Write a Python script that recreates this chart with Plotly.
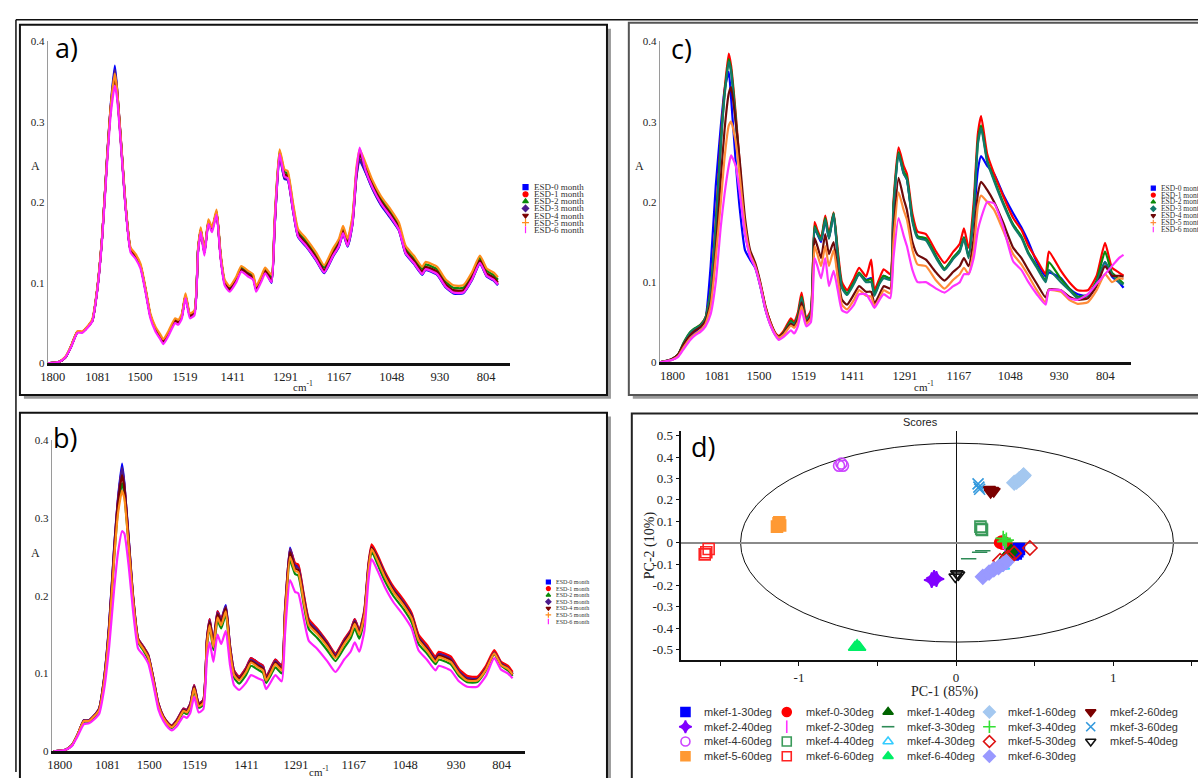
import plotly.graph_objects as go

W, H = 1198, 778


def fx(p):
    return p / W


def fy(p):
    return 1 - p / H


# ---------------- spectra data (panels a, b, c) ----------------
# sample index along the spectral axis (same grid for the three spectra panels)
X_IDX = [0, 2.6, 4, 5.1, 6.6, 7.7, 8.8, 9.9, 11, 12.1, 13.2, 14, 14.9, 15.4, 16.4, 17.3, 18.4, 19.5,
         20.6, 21.7, 22.8, 23.9, 25, 25.7, 26.8, 28.3, 29, 29.8, 30.6, 31.6, 32.6, 33.4, 34, 34.8,
         35.7, 36.5, 37.5, 38.4, 39.3, 40.4, 41.9, 43, 44.5, 45.6, 46.3, 47.4, 48.3, 49.7, 50.4,
         51.5, 52.6, 53.3, 54.5, 55.6, 57.4, 59.6, 61.4, 63.3, 64.7, 65.6, 66.6, 67.7, 68.6, 69.3,
         70.6, 72.1, 74, 76.2, 78, 79.5, 81.3, 83.2, 83.9, 86.5, 88.3, 90.1, 92.3, 94.2, 96, 97.5,
         99, 100]

TICK_LABELS = ["1800", "1081", "1500", "1519", "1411", "1291", "1167", "1048", "930", "804"]
TICKS_A = [1.1, 11.1, 20.5, 30.5, 41.1, 52.8, 64.7, 76.4, 87.1, 97.4]
TICKS_B = [1.3, 11.7, 20.8, 30.7, 42.0, 52.8, 65.4, 76.6, 87.7, 97.6]
TICKS_C = [2.8, 12.4, 21.4, 31.0, 41.5, 52.9, 64.5, 75.6, 86.1, 96.1]
Y_TICKS = [0, 0.1, 0.2, 0.3, 0.4]
Y_TICK_TEXT = ["0", "0.1", "0.2", "0.3", "0.4"]

ESD_NAMES = ["ESD-0 month", "ESD-1 month", "ESD-2 month", "ESD-3 month",
             "ESD-4 month", "ESD-5 month", "ESD-6 month"]

# panel a
A_ESD0 = [0.0, 0.002, 0.008, 0.02, 0.039, 0.039, 0.045, 0.053, 0.092, 0.158, 0.258, 0.322, 0.37, 0.342, 0.266, 0.196, 0.141, 0.133, 0.121, 0.092, 0.059, 0.043, 0.033, 0.027, 0.037, 0.053, 0.051, 0.059, 0.084, 0.059, 0.063, 0.141, 0.166, 0.137, 0.176, 0.166, 0.188, 0.133, 0.1, 0.092, 0.104, 0.117, 0.111, 0.107, 0.092, 0.104, 0.115, 0.1, 0.169, 0.258, 0.229, 0.228, 0.189, 0.157, 0.145, 0.128, 0.112, 0.132, 0.145, 0.161, 0.145, 0.173, 0.233, 0.252, 0.237, 0.217, 0.197, 0.18, 0.165, 0.136, 0.124, 0.11, 0.116, 0.11, 0.095, 0.087, 0.087, 0.103, 0.124, 0.108, 0.103, 0.097]
A_ESD1 = [0.0, 0.002, 0.008, 0.02, 0.039, 0.039, 0.045, 0.053, 0.092, 0.158, 0.256, 0.318, 0.362, 0.34, 0.265, 0.195, 0.141, 0.133, 0.121, 0.092, 0.059, 0.043, 0.033, 0.027, 0.037, 0.053, 0.051, 0.059, 0.084, 0.059, 0.063, 0.141, 0.166, 0.137, 0.176, 0.166, 0.188, 0.133, 0.1, 0.092, 0.104, 0.117, 0.111, 0.107, 0.092, 0.104, 0.115, 0.102, 0.171, 0.26, 0.233, 0.231, 0.191, 0.159, 0.147, 0.13, 0.114, 0.134, 0.147, 0.163, 0.147, 0.175, 0.237, 0.262, 0.241, 0.22, 0.2, 0.183, 0.167, 0.138, 0.126, 0.112, 0.118, 0.112, 0.097, 0.089, 0.089, 0.105, 0.126, 0.11, 0.105, 0.099]
A_ESD2 = [0.0, 0.002, 0.008, 0.02, 0.039, 0.039, 0.045, 0.053, 0.092, 0.158, 0.255, 0.316, 0.355, 0.336, 0.263, 0.195, 0.142, 0.134, 0.122, 0.093, 0.06, 0.044, 0.034, 0.028, 0.038, 0.054, 0.052, 0.06, 0.085, 0.06, 0.064, 0.142, 0.167, 0.138, 0.177, 0.167, 0.189, 0.135, 0.102, 0.094, 0.106, 0.119, 0.113, 0.109, 0.094, 0.106, 0.117, 0.107, 0.176, 0.264, 0.238, 0.236, 0.196, 0.164, 0.152, 0.135, 0.119, 0.139, 0.152, 0.168, 0.152, 0.18, 0.24, 0.258, 0.246, 0.225, 0.205, 0.188, 0.172, 0.143, 0.131, 0.117, 0.123, 0.117, 0.102, 0.094, 0.094, 0.11, 0.131, 0.115, 0.11, 0.104]
A_ESD3 = [0.0, 0.002, 0.008, 0.02, 0.039, 0.039, 0.045, 0.053, 0.092, 0.158, 0.257, 0.32, 0.365, 0.34, 0.265, 0.195, 0.141, 0.133, 0.121, 0.092, 0.059, 0.043, 0.033, 0.027, 0.037, 0.053, 0.051, 0.059, 0.084, 0.059, 0.063, 0.141, 0.166, 0.137, 0.176, 0.166, 0.188, 0.133, 0.1, 0.092, 0.104, 0.117, 0.111, 0.107, 0.092, 0.104, 0.115, 0.101, 0.17, 0.259, 0.23, 0.229, 0.19, 0.158, 0.146, 0.129, 0.113, 0.133, 0.146, 0.162, 0.146, 0.174, 0.235, 0.254, 0.238, 0.218, 0.198, 0.181, 0.166, 0.137, 0.125, 0.111, 0.117, 0.111, 0.096, 0.088, 0.088, 0.104, 0.125, 0.109, 0.104, 0.098]
A_ESD4 = [0.0, 0.002, 0.008, 0.02, 0.039, 0.039, 0.045, 0.053, 0.092, 0.158, 0.256, 0.318, 0.355, 0.337, 0.264, 0.195, 0.141, 0.133, 0.121, 0.092, 0.059, 0.043, 0.033, 0.027, 0.037, 0.053, 0.051, 0.059, 0.084, 0.059, 0.063, 0.141, 0.166, 0.137, 0.176, 0.166, 0.188, 0.133, 0.1, 0.092, 0.104, 0.117, 0.111, 0.107, 0.092, 0.104, 0.115, 0.104, 0.173, 0.262, 0.235, 0.233, 0.193, 0.161, 0.149, 0.132, 0.116, 0.136, 0.149, 0.165, 0.149, 0.177, 0.239, 0.26, 0.243, 0.222, 0.202, 0.185, 0.169, 0.14, 0.128, 0.114, 0.12, 0.114, 0.099, 0.091, 0.091, 0.107, 0.128, 0.112, 0.107, 0.101]
A_ESD5 = [0.0, 0.002, 0.009, 0.021, 0.04, 0.04, 0.046, 0.055, 0.094, 0.16, 0.258, 0.32, 0.36, 0.34, 0.267, 0.198, 0.144, 0.136, 0.124, 0.095, 0.062, 0.046, 0.036, 0.03, 0.04, 0.056, 0.054, 0.062, 0.087, 0.062, 0.066, 0.144, 0.169, 0.14, 0.179, 0.169, 0.191, 0.137, 0.104, 0.096, 0.108, 0.121, 0.115, 0.111, 0.096, 0.108, 0.119, 0.11, 0.179, 0.266, 0.241, 0.239, 0.199, 0.167, 0.155, 0.138, 0.122, 0.142, 0.155, 0.171, 0.155, 0.183, 0.245, 0.266, 0.249, 0.228, 0.208, 0.191, 0.175, 0.146, 0.134, 0.12, 0.126, 0.12, 0.105, 0.097, 0.097, 0.113, 0.134, 0.118, 0.113, 0.107]
A_ESD6 = [0.0, 0.002, 0.008, 0.019, 0.038, 0.038, 0.044, 0.052, 0.09, 0.155, 0.25, 0.31, 0.345, 0.33, 0.26, 0.192, 0.138, 0.13, 0.118, 0.089, 0.056, 0.04, 0.03, 0.024, 0.034, 0.05, 0.048, 0.056, 0.081, 0.056, 0.06, 0.138, 0.163, 0.134, 0.173, 0.163, 0.185, 0.13, 0.097, 0.089, 0.101, 0.114, 0.108, 0.104, 0.089, 0.101, 0.112, 0.101, 0.17, 0.26, 0.232, 0.23, 0.19, 0.158, 0.146, 0.129, 0.113, 0.133, 0.146, 0.162, 0.146, 0.174, 0.24, 0.268, 0.24, 0.219, 0.199, 0.182, 0.166, 0.137, 0.125, 0.111, 0.117, 0.111, 0.096, 0.088, 0.088, 0.104, 0.125, 0.109, 0.104, 0.098]

# panel b
B_ESD0 = [0.0, 0.002, 0.008, 0.02, 0.04, 0.04, 0.046, 0.055, 0.095, 0.165, 0.265, 0.325, 0.37, 0.345, 0.27, 0.2, 0.145, 0.135, 0.124, 0.095, 0.062, 0.045, 0.036, 0.033, 0.04, 0.055, 0.053, 0.062, 0.085, 0.062, 0.066, 0.145, 0.17, 0.14, 0.18, 0.17, 0.188, 0.137, 0.104, 0.096, 0.107, 0.12, 0.114, 0.11, 0.096, 0.108, 0.118, 0.11, 0.18, 0.262, 0.24, 0.238, 0.2, 0.168, 0.157, 0.14, 0.125, 0.143, 0.155, 0.17, 0.155, 0.18, 0.24, 0.264, 0.25, 0.23, 0.21, 0.193, 0.176, 0.148, 0.135, 0.12, 0.126, 0.12, 0.104, 0.095, 0.094, 0.108, 0.128, 0.114, 0.108, 0.1]
B_ESD1 = [0.0, 0.002, 0.008, 0.02, 0.04, 0.04, 0.046, 0.055, 0.094, 0.162, 0.262, 0.322, 0.362, 0.342, 0.268, 0.2, 0.145, 0.135, 0.124, 0.095, 0.062, 0.045, 0.036, 0.033, 0.04, 0.055, 0.053, 0.062, 0.085, 0.062, 0.066, 0.145, 0.17, 0.14, 0.18, 0.17, 0.186, 0.137, 0.104, 0.096, 0.107, 0.12, 0.114, 0.11, 0.096, 0.108, 0.118, 0.11, 0.182, 0.26, 0.242, 0.24, 0.202, 0.17, 0.158, 0.141, 0.126, 0.144, 0.156, 0.17, 0.156, 0.182, 0.242, 0.266, 0.252, 0.232, 0.212, 0.195, 0.178, 0.15, 0.137, 0.122, 0.128, 0.122, 0.106, 0.097, 0.096, 0.11, 0.13, 0.115, 0.11, 0.102]
B_ESD2 = [0.0, 0.002, 0.008, 0.02, 0.038, 0.038, 0.044, 0.052, 0.09, 0.155, 0.25, 0.31, 0.345, 0.33, 0.26, 0.195, 0.14, 0.13, 0.118, 0.09, 0.058, 0.042, 0.033, 0.03, 0.036, 0.05, 0.048, 0.056, 0.078, 0.056, 0.06, 0.135, 0.16, 0.13, 0.168, 0.158, 0.176, 0.127, 0.095, 0.087, 0.098, 0.11, 0.105, 0.101, 0.088, 0.099, 0.108, 0.1, 0.168, 0.245, 0.228, 0.226, 0.188, 0.157, 0.146, 0.13, 0.116, 0.133, 0.145, 0.158, 0.145, 0.17, 0.232, 0.257, 0.24, 0.22, 0.2, 0.183, 0.166, 0.138, 0.126, 0.112, 0.118, 0.112, 0.097, 0.089, 0.089, 0.104, 0.125, 0.11, 0.104, 0.097]
B_ESD3 = [0.0, 0.002, 0.008, 0.02, 0.04, 0.04, 0.046, 0.055, 0.094, 0.163, 0.262, 0.322, 0.365, 0.343, 0.268, 0.198, 0.144, 0.134, 0.123, 0.094, 0.061, 0.044, 0.035, 0.032, 0.039, 0.054, 0.052, 0.061, 0.084, 0.061, 0.065, 0.143, 0.168, 0.139, 0.178, 0.168, 0.186, 0.135, 0.102, 0.094, 0.105, 0.118, 0.112, 0.108, 0.094, 0.106, 0.116, 0.108, 0.178, 0.26, 0.238, 0.236, 0.198, 0.167, 0.156, 0.139, 0.124, 0.142, 0.154, 0.168, 0.154, 0.179, 0.238, 0.262, 0.249, 0.229, 0.209, 0.192, 0.175, 0.147, 0.134, 0.119, 0.125, 0.119, 0.103, 0.094, 0.093, 0.107, 0.127, 0.113, 0.107, 0.099]
B_ESD4 = [0.0, 0.002, 0.008, 0.02, 0.039, 0.039, 0.045, 0.054, 0.092, 0.16, 0.258, 0.318, 0.355, 0.338, 0.265, 0.197, 0.143, 0.133, 0.122, 0.093, 0.06, 0.044, 0.035, 0.032, 0.038, 0.053, 0.051, 0.06, 0.083, 0.06, 0.064, 0.142, 0.166, 0.137, 0.176, 0.166, 0.184, 0.133, 0.1, 0.093, 0.104, 0.116, 0.11, 0.106, 0.093, 0.104, 0.114, 0.106, 0.175, 0.256, 0.235, 0.233, 0.195, 0.164, 0.153, 0.137, 0.122, 0.14, 0.152, 0.166, 0.152, 0.177, 0.236, 0.262, 0.247, 0.227, 0.207, 0.19, 0.173, 0.145, 0.132, 0.117, 0.123, 0.117, 0.101, 0.092, 0.092, 0.106, 0.126, 0.112, 0.106, 0.099]
B_ESD5 = [0.0, 0.002, 0.008, 0.02, 0.039, 0.039, 0.045, 0.053, 0.09, 0.155, 0.25, 0.305, 0.335, 0.325, 0.26, 0.195, 0.142, 0.132, 0.121, 0.092, 0.059, 0.043, 0.034, 0.031, 0.037, 0.052, 0.05, 0.058, 0.081, 0.058, 0.062, 0.138, 0.162, 0.134, 0.172, 0.162, 0.18, 0.13, 0.098, 0.091, 0.102, 0.114, 0.108, 0.104, 0.091, 0.102, 0.112, 0.104, 0.172, 0.25, 0.232, 0.23, 0.192, 0.162, 0.151, 0.135, 0.12, 0.138, 0.15, 0.164, 0.15, 0.175, 0.234, 0.26, 0.245, 0.225, 0.205, 0.188, 0.171, 0.143, 0.13, 0.115, 0.121, 0.115, 0.1, 0.091, 0.091, 0.105, 0.126, 0.111, 0.106, 0.099]
B_ESD6 = [0.0, 0.002, 0.007, 0.018, 0.035, 0.036, 0.041, 0.048, 0.08, 0.135, 0.21, 0.255, 0.283, 0.28, 0.235, 0.18, 0.132, 0.124, 0.113, 0.086, 0.054, 0.039, 0.03, 0.027, 0.032, 0.045, 0.043, 0.05, 0.07, 0.05, 0.054, 0.12, 0.14, 0.115, 0.15, 0.138, 0.155, 0.112, 0.085, 0.079, 0.088, 0.098, 0.094, 0.091, 0.08, 0.09, 0.098, 0.09, 0.15, 0.22, 0.205, 0.203, 0.17, 0.142, 0.132, 0.116, 0.102, 0.118, 0.128, 0.14, 0.128, 0.155, 0.22, 0.247, 0.232, 0.212, 0.192, 0.175, 0.158, 0.13, 0.118, 0.104, 0.11, 0.104, 0.09, 0.083, 0.083, 0.097, 0.12, 0.105, 0.1, 0.094]

# panel c
C_ESD0 = [0.0, 0.003, 0.008, 0.018, 0.03, 0.038, 0.044, 0.055, 0.12, 0.22, 0.295, 0.34, 0.362, 0.33, 0.25, 0.19, 0.14, 0.128, 0.118, 0.095, 0.066, 0.047, 0.034, 0.031, 0.037, 0.05, 0.047, 0.057, 0.078, 0.052, 0.06, 0.165, 0.16, 0.15, 0.177, 0.155, 0.185, 0.132, 0.094, 0.086, 0.1, 0.11, 0.103, 0.105, 0.085, 0.1, 0.108, 0.104, 0.19, 0.26, 0.236, 0.228, 0.178, 0.157, 0.154, 0.132, 0.116, 0.13, 0.14, 0.156, 0.133, 0.18, 0.24, 0.257, 0.245, 0.235, 0.21, 0.186, 0.168, 0.15, 0.125, 0.107, 0.112, 0.105, 0.092, 0.085, 0.083, 0.1, 0.125, 0.107, 0.1, 0.093]
C_ESD1 = [0.0, 0.004, 0.01, 0.022, 0.036, 0.042, 0.047, 0.056, 0.09, 0.175, 0.28, 0.34, 0.385, 0.37, 0.31, 0.245, 0.165, 0.135, 0.122, 0.098, 0.07, 0.05, 0.036, 0.033, 0.04, 0.055, 0.05, 0.062, 0.087, 0.055, 0.065, 0.175, 0.165, 0.155, 0.183, 0.16, 0.187, 0.14, 0.1, 0.09, 0.105, 0.118, 0.107, 0.128, 0.09, 0.105, 0.116, 0.11, 0.2, 0.268, 0.245, 0.235, 0.185, 0.163, 0.16, 0.138, 0.124, 0.138, 0.148, 0.167, 0.143, 0.2, 0.285, 0.307, 0.26, 0.235, 0.208, 0.18, 0.165, 0.145, 0.128, 0.11, 0.138, 0.114, 0.1, 0.09, 0.09, 0.108, 0.149, 0.118, 0.112, 0.108]
C_ESD2 = [0.0, 0.004, 0.01, 0.024, 0.038, 0.043, 0.047, 0.056, 0.09, 0.17, 0.275, 0.335, 0.378, 0.365, 0.305, 0.24, 0.163, 0.134, 0.121, 0.097, 0.068, 0.048, 0.035, 0.032, 0.038, 0.052, 0.048, 0.058, 0.082, 0.053, 0.062, 0.17, 0.162, 0.153, 0.18, 0.156, 0.186, 0.135, 0.095, 0.086, 0.1, 0.112, 0.102, 0.104, 0.085, 0.1, 0.108, 0.105, 0.195, 0.262, 0.238, 0.23, 0.178, 0.157, 0.155, 0.132, 0.117, 0.131, 0.14, 0.156, 0.132, 0.19, 0.275, 0.295, 0.252, 0.228, 0.2, 0.172, 0.157, 0.137, 0.12, 0.102, 0.125, 0.104, 0.092, 0.082, 0.084, 0.102, 0.138, 0.112, 0.104, 0.098]
C_ESD3 = [0.0, 0.004, 0.01, 0.023, 0.037, 0.042, 0.046, 0.055, 0.088, 0.168, 0.272, 0.332, 0.375, 0.362, 0.3, 0.238, 0.162, 0.133, 0.12, 0.096, 0.067, 0.047, 0.034, 0.031, 0.037, 0.05, 0.047, 0.057, 0.08, 0.052, 0.061, 0.168, 0.16, 0.152, 0.178, 0.154, 0.185, 0.133, 0.093, 0.084, 0.098, 0.11, 0.1, 0.1, 0.083, 0.098, 0.105, 0.103, 0.192, 0.26, 0.235, 0.228, 0.175, 0.155, 0.152, 0.13, 0.115, 0.129, 0.138, 0.154, 0.13, 0.188, 0.272, 0.292, 0.25, 0.226, 0.198, 0.17, 0.155, 0.135, 0.118, 0.1, 0.115, 0.1, 0.09, 0.08, 0.083, 0.1, 0.125, 0.11, 0.1, 0.097]
C_ESD4 = [0.0, 0.004, 0.01, 0.022, 0.034, 0.04, 0.044, 0.052, 0.075, 0.14, 0.23, 0.29, 0.335, 0.343, 0.3, 0.25, 0.18, 0.14, 0.124, 0.1, 0.07, 0.05, 0.036, 0.032, 0.037, 0.048, 0.045, 0.054, 0.075, 0.05, 0.058, 0.155, 0.145, 0.13, 0.16, 0.135, 0.15, 0.11, 0.078, 0.072, 0.085, 0.095, 0.088, 0.088, 0.073, 0.085, 0.095, 0.092, 0.16, 0.23, 0.204, 0.19, 0.15, 0.134, 0.128, 0.112, 0.102, 0.113, 0.12, 0.13, 0.12, 0.155, 0.21, 0.225, 0.215, 0.2, 0.175, 0.143, 0.13, 0.115, 0.098, 0.081, 0.091, 0.09, 0.082, 0.078, 0.08, 0.095, 0.12, 0.108, 0.108, 0.107]
C_ESD5 = [0.0, 0.003, 0.008, 0.018, 0.03, 0.036, 0.04, 0.048, 0.07, 0.13, 0.2, 0.255, 0.295, 0.3, 0.275, 0.23, 0.17, 0.135, 0.12, 0.097, 0.068, 0.048, 0.035, 0.031, 0.035, 0.046, 0.043, 0.05, 0.07, 0.048, 0.055, 0.145, 0.135, 0.12, 0.145, 0.12, 0.14, 0.105, 0.072, 0.066, 0.078, 0.09, 0.083, 0.082, 0.07, 0.08, 0.09, 0.086, 0.15, 0.212, 0.19, 0.178, 0.14, 0.122, 0.12, 0.102, 0.092, 0.103, 0.11, 0.118, 0.11, 0.14, 0.195, 0.208, 0.2, 0.19, 0.165, 0.135, 0.122, 0.108, 0.09, 0.075, 0.09, 0.088, 0.078, 0.073, 0.075, 0.09, 0.11, 0.1, 0.105, 0.104]
C_ESD6 = [0.0, 0.003, 0.007, 0.016, 0.028, 0.034, 0.038, 0.045, 0.06, 0.1, 0.17, 0.21, 0.245, 0.258, 0.245, 0.21, 0.16, 0.132, 0.118, 0.095, 0.066, 0.046, 0.033, 0.028, 0.032, 0.04, 0.036, 0.045, 0.065, 0.045, 0.05, 0.13, 0.12, 0.105, 0.13, 0.095, 0.114, 0.09, 0.065, 0.062, 0.072, 0.085, 0.085, 0.075, 0.068, 0.078, 0.085, 0.08, 0.13, 0.18, 0.158, 0.145, 0.115, 0.1, 0.1, 0.092, 0.087, 0.095, 0.1, 0.11, 0.11, 0.13, 0.165, 0.18, 0.2, 0.198, 0.17, 0.126, 0.115, 0.1, 0.085, 0.072, 0.09, 0.09, 0.08, 0.078, 0.085, 0.098, 0.11, 0.12, 0.13, 0.134]

A_SERIES = [A_ESD0, A_ESD1, A_ESD2, A_ESD3, A_ESD4, A_ESD5, A_ESD6]
B_SERIES = [B_ESD0, B_ESD1, B_ESD2, B_ESD3, B_ESD4, B_ESD5, B_ESD6]
C_SERIES = [C_ESD0, C_ESD1, C_ESD2, C_ESD3, C_ESD4, C_ESD5, C_ESD6]
for grp in (A_SERIES, B_SERIES, C_SERIES):
    for s in grp:
        assert len(s) == len(X_IDX), (len(s), len(X_IDX))

# ---------------- PCA scores (panel d) ----------------
D_NAMES = ["mkef-1-30deg", "mkef-0-30deg", "mkef-1-40deg", "mkef-1-60deg", "mkef-2-60deg",
           "mkef-2-40deg", "mkef-2-30deg", "mkef-3-30deg", "mkef-3-40deg", "mkef-3-60deg",
           "mkef-4-60deg", "mkef-4-40deg", "mkef-4-30deg", "mkef-5-30deg", "mkef-5-40deg",
           "mkef-5-60deg", "mkef-6-60deg", "mkef-6-40deg", "mkef-6-30deg"]

M1_30_PC1 = [0.36, 0.37, 0.38, 0.39, 0.40, 0.38]
M1_30_PC2 = [-0.055, -0.045, -0.035, -0.04, -0.03, -0.05]
M0_30_PC1 = [0.28, 0.29, 0.30, 0.31, 0.32]
M0_30_PC2 = [0.0, 0.005, -0.005, 0.0, -0.005]
M1_40_PC1 = [0.31, 0.32, 0.33, 0.34, 0.35]
M1_40_PC2 = [-0.07, -0.06, -0.05, -0.045, -0.035]
M1_60_PC1 = [0.37, 0.385, 0.40, 0.41, 0.425, 0.43]
M1_60_PC2 = [0.28, 0.285, 0.295, 0.30, 0.31, 0.315]
M2_60_PC1 = [0.21, 0.22, 0.23, 0.24]
M2_60_PC2 = [0.25, 0.235, 0.245, 0.24]
M2_40_PC1 = [-0.155, -0.14, -0.125]
M2_40_PC2 = [-0.175, -0.165, -0.17]
M2_30_PC1 = [0.30, 0.31]
M2_30_PC2 = [0.005, -0.005]
M3_30_PC1 = [0.08, 0.15, 0.17]
M3_30_PC2 = [-0.075, -0.045, -0.038]
M3_40_PC1 = [0.30, 0.31, 0.32]
M3_40_PC2 = [0.02, 0.005, 0.012]
M3_60_PC1 = [0.14, 0.145, 0.15]
M3_60_PC2 = [0.275, 0.26, 0.25]
M4_60_PC1 = [-0.745, -0.73, -0.72]
M4_60_PC2 = [0.36, 0.37, 0.36]
M4_40_PC1 = [0.155, 0.16, 0.165]
M4_40_PC2 = [0.075, 0.065, 0.06]
M4_30_PC1 = [0.26, 0.28, 0.30, 0.31]
M4_30_PC2 = [-0.12, -0.105, -0.11, -0.09]
M5_30_PC1 = [0.28, 0.33, 0.37, 0.47]
M5_30_PC2 = [-0.085, -0.07, -0.05, -0.025]
M5_40_PC1 = [-0.005, 0.005, 0.015]
M5_40_PC2 = [-0.16, -0.145, -0.15]
M5_60_PC1 = [-1.14, -1.13, -1.12, -1.125]
M5_60_PC2 = [0.075, 0.09, 0.08, 0.095]
M6_60_PC1 = [-1.60, -1.59, -1.575]
M6_60_PC2 = [-0.055, -0.045, -0.03]
M6_40_PC1 = [-0.645, -0.63, -0.615]
M6_40_PC2 = [-0.49, -0.48, -0.49]
M6_30_PC1 = [0.17, 0.21, 0.24, 0.27, 0.30, 0.32]
M6_30_PC2 = [-0.16, -0.14, -0.125, -0.115, -0.1, -0.09]

D_PC1 = [M1_30_PC1, M0_30_PC1, M1_40_PC1, M1_60_PC1, M2_60_PC1, M2_40_PC1, M2_30_PC1, M3_30_PC1,
         M3_40_PC1, M3_60_PC1, M4_60_PC1, M4_40_PC1, M4_30_PC1, M5_30_PC1, M5_40_PC1, M5_60_PC1,
         M6_60_PC1, M6_40_PC1, M6_30_PC1]
D_PC2 = [M1_30_PC2, M0_30_PC2, M1_40_PC2, M1_60_PC2, M2_60_PC2, M2_40_PC2, M2_30_PC2, M3_30_PC2,
         M3_40_PC2, M3_60_PC2, M4_60_PC2, M4_40_PC2, M4_30_PC2, M5_30_PC2, M5_40_PC2, M5_60_PC2,
         M6_60_PC2, M6_40_PC2, M6_30_PC2]

D_X_TICKS = [-1, 0, 1]
D_X_MINOR = [-1.5, -0.5, 0.5, 1.5]
D_Y_TICKS = [0.5, 0.4, 0.3, 0.2, 0.1, 0, -0.1, -0.2, -0.3, -0.4, -0.5]
ELLIPSE_PC1 = [-1.372, 1.384]
ELLIPSE_PC2 = [-0.465, 0.465]

# ---------------- styles ----------------
AB_COLORS = ["#0000ff", "#ff0000", "#0a8a0a", "#4b1a8c", "#7a0000", "#ff8c1a", "#ff22ff"]
C_COLORS = ["#0000ff", "#ff0000", "#0a8a0a", "#117a6a", "#6e0a0a", "#ff8c3a", "#ff33ff"]
ESD_SYMBOLS = ["square", "circle", "triangle-up", "diamond", "triangle-down",
               "cross-thin-open", "line-ns-open"]

D_COLORS = ["#0000ff", "#ff0000", "#006400", "#a4c8f0", "#7b0000",
            "#8000ff", "#ff33ff", "#2e8b57", "#33e033", "#3399dd",
            "#cc44ff", "#3a9a5a", "#33ccff", "#dd1111", "#111111",
            "#ff9933", "#ff2222", "#00ee66", "#9999ff"]
D_SYMBOLS = ["square", "circle", "triangle-up", "diamond", "triangle-down",
             "star-diamond", "line-ns-open", "line-ew-open", "cross-thin-open", "x-thin-open",
             "circle-open", "square-open", "triangle-up-open", "diamond-open", "triangle-down-open",
             "square", "square-open", "triangle-up", "diamond"]

SERIF = "Liberation Serif"
SANS = "Liberation Sans"

fig = go.Figure()
annotations = []
shapes = []

# spectra curves
for xa, ya, series, colors in (("x", "y", A_SERIES, AB_COLORS),
                               ("x2", "y2", C_SERIES, C_COLORS),
                               ("x3", "y3", B_SERIES, AB_COLORS)):
    for name, ys, col in zip(ESD_NAMES, series, colors):
        fig.add_trace(go.Scatter(
            x=X_IDX, y=ys, mode="lines", name=name, xaxis=xa, yaxis=ya,
            line=dict(color=col, width=2.2, shape="spline", smoothing=0.5),
            showlegend=False, hoverinfo="skip"))

# PCA scores
for name, px1, px2, col, sym in zip(D_NAMES, D_PC1, D_PC2, D_COLORS, D_SYMBOLS):
    fig.add_trace(go.Scatter(
        x=px1, y=px2, mode="markers", name=name, xaxis="x4", yaxis="y4",
        marker=dict(symbol=sym, color=col, size=11, line=dict(color=col, width=1.6)),
        showlegend=False, hoverinfo="skip"))


# ---------------- hand-placed legends (pixel layout) ----------------
def esd_legend(x_marker, x_text, y0, dy, colors, msize, font):
    for i, (name, col, sym) in enumerate(zip(ESD_NAMES, colors, ESD_SYMBOLS)):
        yy = y0 + dy * i
        fig.add_trace(go.Scatter(
            x=[x_marker], y=[yy], mode="markers", name=name, xaxis="x5", yaxis="y5",
            marker=dict(symbol=sym, color=col, size=msize, line=dict(color=col, width=1.2)),
            showlegend=False, hoverinfo="skip"))
        annotations.append(dict(x=fx(x_text), y=fy(yy), xref="paper", yref="paper", text=name,
                                showarrow=False, xanchor="left", yanchor="middle", font=font))


esd_legend(521, 528, 184, 7.2, AB_COLORS, 5, dict(family=SERIF, size=9, color="#333"))
esd_legend(544, 550, 585, 6.7, AB_COLORS, 4, dict(family=SERIF, size=6, color="#333"))
esd_legend(1153, 1159, 185, 7.0, C_COLORS, 4, dict(family=SERIF, size=7.5, color="#333"))

for i, (name, col, sym) in enumerate(zip(D_NAMES, D_COLORS, D_SYMBOLS)):
    r, c = divmod(i, 5)
    xm, ym = 682 + 102 * c, 717 + 15 * r
    fig.add_trace(go.Scatter(
        x=[xm], y=[ym], mode="markers", name=name, xaxis="x5", yaxis="y5",
        marker=dict(symbol=sym, color=col, size=9, line=dict(color=col, width=1.6)),
        showlegend=False, hoverinfo="skip"))
    annotations.append(dict(x=fx(xm + 17), y=fy(ym), xref="paper", yref="paper", text=name,
                            showarrow=False, xanchor="left", yanchor="middle",
                            font=dict(family=SANS, size=11, color="#333")))


# ---------------- text annotations ----------------
def ann(xp, yp, text, font, **kw):
    d = dict(x=fx(xp), y=fy(yp), xref="paper", yref="paper", text=text, showarrow=False,
             xanchor="center", yanchor="middle", font=font)
    d.update(kw)
    annotations.append(d)


big = dict(family="Open Sans", size=27, color="#000")
ann(59, 42, "a)", big)
ann(57, 438, "b)", big)
ann(678, 43, "c)", big)
ann(700, 447, "d)", big)

small_serif = dict(family=SERIF, size=12, color="#222")
ann(28, 162, "A", small_serif)
ann(28, 556, "A", small_serif)
ann(636, 163, "A", small_serif)
ann(297, 386, "cm<sup>-1</sup>", dict(family=SERIF, size=11, color="#222"))
ann(313, 777, "cm<sup>-1</sup>", dict(family=SERIF, size=11, color="#222"))
ann(922, 386, "cm<sup>-1</sup>", dict(family=SERIF, size=11, color="#222"))

ann(919, 423, "Scores", dict(family=SANS, size=11, color="#222"))
ann(943, 697, "PC-1 (85%)", dict(family=SERIF, size=14, color="#222"))
ann(646, 548, "PC-2 (10%)", dict(family=SERIF, size=14, color="#222"), textangle=-90)


# ---------------- frames ----------------
def rect(x0, y0, x1, y1, **kw):
    d = dict(type="rect", xref="paper", yref="paper", x0=fx(x0), x1=fx(x1), y0=fy(y1), y1=fy(y0),
             layer="below")
    d.update(kw)
    shapes.append(d)


def seg(x0, y0, x1, y1, **kw):
    d = dict(type="line", xref="paper", yref="paper", x0=fx(x0), x1=fx(x1), y0=fy(y0), y1=fy(y1),
             layer="below")
    d.update(kw)
    shapes.append(d)


SH = dict(fillcolor="#9a9a9a", line=dict(width=0))
for (x0, y0, x1, y1, lc) in ((12, 19, 603, 395, "#111"), (625, 17, 1215, 395, "#555"),
                             (12, 413, 603, 800, "#111"), (628, 414, 1215, 800, "#222")):
    rect(x0 + 4, y0 + 4, x1 + 4, y1 + 4, **SH)
    rect(x0, y0, x1, y1, fillcolor="white", line=dict(color=lc, width=2))

seg(8, 14, 1198, 14, line=dict(color="#111", width=1.5))
seg(8, 14, 8, 778, line=dict(color="#111", width=1.5))

# ellipse (Hotelling T2) in data coordinates of panel d
shapes.append(dict(type="circle", xref="x4", yref="y4", x0=ELLIPSE_PC1[0], x1=ELLIPSE_PC1[1],
                   y0=ELLIPSE_PC2[0], y1=ELLIPSE_PC2[1], line=dict(color="#111", width=1),
                   layer="below"))


# ---------------- axes ----------------
def spec_x(dom, rng, ticks, anchor):
    return dict(domain=[fx(dom[0]), fx(dom[1])], range=rng, anchor=anchor, showline=True,
                linecolor="#111", linewidth=3, ticks="", tickmode="array", tickvals=ticks,
                ticktext=TICK_LABELS, tickfont=dict(family=SERIF, size=12.5, color="#222"),
                showgrid=False, zeroline=False, fixedrange=True)


def spec_y(dom, anchor):
    return dict(domain=[fy(dom[1]), fy(dom[0])], range=[0, 0.4], anchor=anchor, showline=True,
                linecolor="#9a9a9a", linewidth=1, ticks="", tickmode="array", tickvals=Y_TICKS,
                ticktext=Y_TICK_TEXT, tickfont=dict(family=SERIF, size=11, color="#222"),
                showgrid=False, zeroline=False, fixedrange=True)


fig.update_layout(
    width=W, height=H, autosize=False,
    margin=dict(l=0, r=0, t=0, b=0, pad=0),
    paper_bgcolor="white", plot_bgcolor="rgba(0,0,0,0)",
    showlegend=False,
    xaxis=spec_x((40, 505), [0, 102.6], TICKS_A, "y"),
    yaxis=spec_y((36, 363), "x"),
    xaxis2=spec_x((656, 1131), [0, 101.7], TICKS_C, "y2"),
    yaxis2=spec_y((36, 362), "x2"),
    xaxis3=spec_x((44, 520), [-0.43, 102.6], TICKS_B, "y3"),
    yaxis3=spec_y((441, 757), "x3"),
    xaxis4=dict(domain=[fx(678), fx(1198)], range=[-1.748, 1.54], anchor="y4", showline=True,
                linecolor="#111", linewidth=1.5, ticks="outside", ticklen=4, tickcolor="#111",
                tickmode="array", tickvals=D_X_TICKS, ticktext=[f"{v:g}" for v in D_X_TICKS],
                minor=dict(tickmode="array", tickvals=D_X_MINOR, ticks="outside", ticklen=4,
                           tickcolor="#111"),
                tickfont=dict(family=SERIF, size=13, color="#222"), showgrid=False,
                zeroline=True, zerolinecolor="#111", zerolinewidth=1, fixedrange=True),
    yaxis4=dict(domain=[fy(664.5), fy(431.5)], range=[-0.55, 0.523], anchor="x4", showline=True,
                linecolor="#111", linewidth=1.5, ticks="outside", ticklen=4, tickcolor="#111",
                tickmode="array", tickvals=D_Y_TICKS, ticktext=[f"{v:g}" for v in D_Y_TICKS],
                tickfont=dict(family=SERIF, size=13, color="#222"), showgrid=False,
                zeroline=True, zerolinecolor="#8a8a8a", zerolinewidth=1.5, fixedrange=True),
    xaxis5=dict(domain=[0, 1], range=[0, W], anchor="y5", visible=False, fixedrange=True),
    yaxis5=dict(domain=[0, 1], range=[H, 0], anchor="x5", visible=False, fixedrange=True),
    annotations=annotations,
    shapes=shapes,
)

fig.write_html(
    "out.html",
    config={"displayModeBar": False},
    post_script="document.body.style.margin='0px';document.body.style.padding='0px';"
                "document.documentElement.style.overflow='hidden';",
)
